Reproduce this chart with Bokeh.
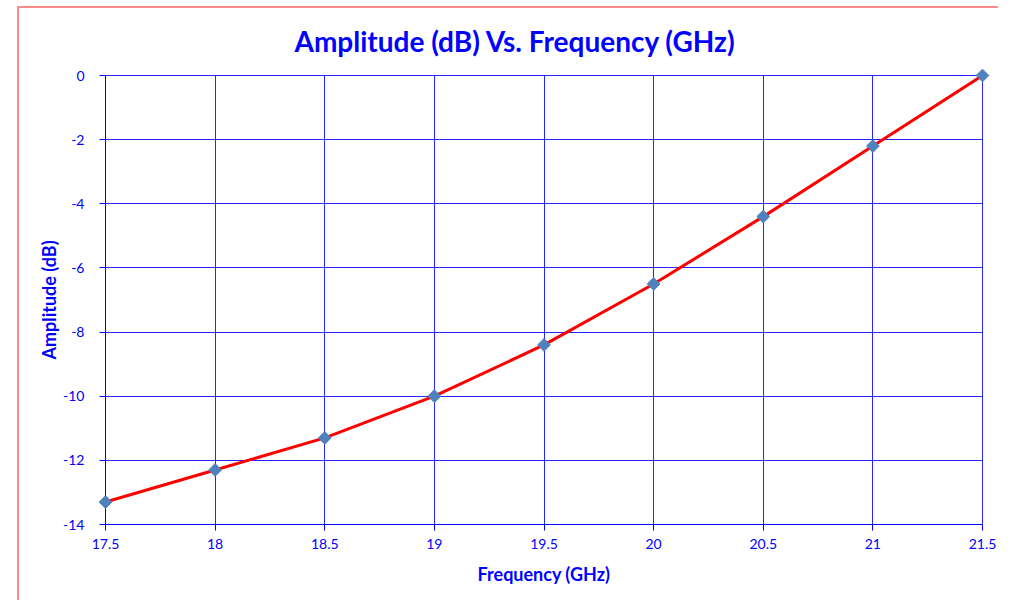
import math
from bokeh.plotting import figure
from bokeh.models import FixedTicker, Title
from bokeh.embed import file_html
from bokeh.resources import INLINE

frequency = [17.5, 18.0, 18.5, 19.0, 19.5, 20.0, 20.5, 21.0, 21.5]
amplitude = [-13.3, -12.3, -11.3, -10.0, -8.4, -6.5, -4.4, -2.2, 0.0]
x_ticks = [17.5, 18.0, 18.5, 19.0, 19.5, 20.0, 20.5, 21.0, 21.5]
x_tick_labels = ["17.5", "18", "18.5", "19", "19.5", "20", "20.5", "21", "21.5"]
y_ticks = [0, -2, -4, -6, -8, -10, -12, -14]
y_tick_labels = ["0", "-2", "-4", "-6", "-8", "-10", "-12", "-14"]

BLUE = "#0000ff"
PINK = "#ff8a8a"
FONT = "Lato"

p = figure(width=998, height=600, x_range=(17.5, 21.5), y_range=(-14, 0),
           output_backend="svg", toolbar_location=None,
           min_border_left=105, min_border_top=75, min_border_right=16, min_border_bottom=76)
p.border_fill_color = None
p.background_fill_color = "white"
p.styles = {
    "background": (f"linear-gradient({PINK}, {PINK}) 17px 6px / 2px 100% no-repeat, "
                   f"linear-gradient({PINK}, {PINK}) 17px 6px / 100% 2px no-repeat, white"),
}

p.title = Title(text="Amplitude (dB) Vs. Frequency (GHz)", align="left", offset=189,
                text_font=FONT, text_font_size="28px", text_font_style="bold",
                text_color=BLUE, standoff=36)

p.xaxis.ticker = FixedTicker(ticks=x_ticks)
p.yaxis.ticker = FixedTicker(ticks=y_ticks)
p.xaxis.major_label_overrides = {t: l for t, l in zip(x_ticks, x_tick_labels)}
p.yaxis.major_label_overrides = {t: l for t, l in zip(y_ticks, y_tick_labels)}

for ax in (p.xaxis, p.yaxis):
    ax.axis_line_color = BLUE
    ax.axis_line_width = 1
    ax.major_tick_line_color = BLUE
    ax.major_tick_out = 6
    ax.major_tick_in = 0
    ax.minor_tick_line_color = None
    ax.major_label_text_color = BLUE
    ax.major_label_text_font = FONT
    ax.major_label_text_font_size = "14px"
    ax.axis_label_text_color = BLUE
    ax.axis_label_text_font = FONT
    ax.axis_label_text_font_style = "bold"
    ax.axis_label_text_font_size = "18px"

p.xaxis.axis_label = "Frequency (GHz)"
p.yaxis.axis_label = "Amplitude (dB)"
p.xaxis.major_label_standoff = 8
p.yaxis.major_label_standoff = 15
p.xaxis.axis_label_standoff = 11
p.yaxis.axis_label_standoff = 0

p.xgrid.grid_line_color = BLUE
p.ygrid.grid_line_color = BLUE
p.xgrid.grid_line_alpha = 0.85
p.ygrid.grid_line_alpha = 0.85
p.outline_line_color = BLUE
p.outline_line_alpha = 0.85

p.line(frequency, amplitude, line_color="#ff0000", line_width=3)
p.scatter(frequency, amplitude, marker="square", size=9, angle=math.pi / 4,
          fill_color="#4f81bd", line_color="#4f81bd", level="overlay")

open("out.html", "w").write(file_html(p, INLINE))
